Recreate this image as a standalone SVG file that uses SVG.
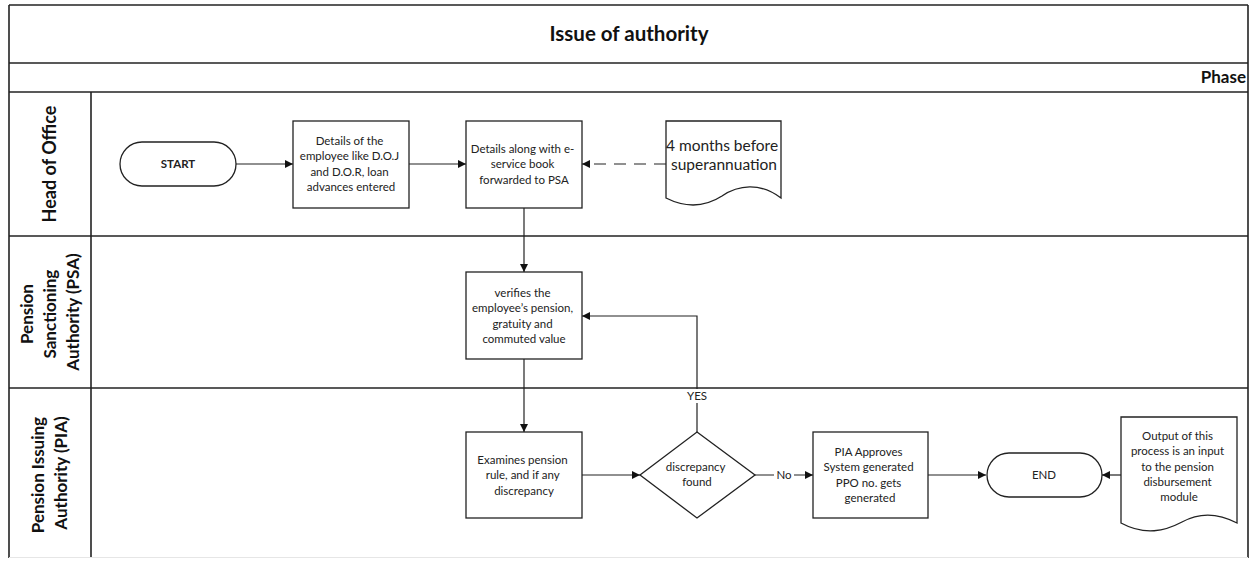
<svg xmlns="http://www.w3.org/2000/svg" width="1251" height="561" viewBox="0 0 1251 561">
  <style>
    .frame { fill: none; stroke: #222; stroke-width: 1.6; }
    .shape { fill: #fff; stroke: #222; stroke-width: 1.3; }
    .edge { fill: none; stroke: #222; stroke-width: 1.2; }
    .dash { stroke-dasharray: 12 8; }
    .t { font-family: Lato, "Liberation Sans", sans-serif; font-size: 11.5px; fill: #222; text-anchor: middle; }
    .big { font-size: 15.5px; }
    .b { font-weight: bold; }
    .lane { font-family: Lato, "Liberation Sans", sans-serif; font-weight: bold; fill: #111; text-anchor: middle; }
  </style>
  <defs>
    <marker id="arrow" viewBox="0 0 10 10" refX="10" refY="5" markerWidth="10" markerHeight="8" markerUnits="userSpaceOnUse" orient="auto">
      <path d="M0,0 L10,5 L0,10 Z" fill="#111"/>
    </marker>
  </defs>

  <rect x="0" y="0" width="1251" height="561" fill="#fff"/>

  <!-- pool frame, title band, phase band and lanes -->
  <g id="pool">
    <line class="frame" x1="9" y1="5" x2="1248" y2="5"/>
    <line class="frame" x1="9" y1="5" x2="9" y2="558"/>
    <line class="frame" x1="1248" y1="5" x2="1248" y2="558"/>
    <line class="frame" x1="9" y1="63" x2="1248" y2="63"/>
    <line class="frame" x1="9" y1="92" x2="1248" y2="92"/>
    <line class="frame" x1="9" y1="236" x2="1248" y2="236"/>
    <line class="frame" x1="9" y1="388" x2="1248" y2="388"/>
    <line class="frame" x1="91" y1="92" x2="91" y2="558"/>
    <line x1="9" y1="557.5" x2="1248" y2="557.5" stroke="#e6e6e6" stroke-width="1"/>
    <text class="lane" x="629" y="41" font-size="20.5">Issue of authority</text>
    <text class="lane" x="1246" y="83" font-size="17" style="text-anchor:end">Phase</text>
  </g>

  <g id="lane-head-of-office">
    <text class="lane" font-size="18" transform="translate(56,164) rotate(-90)">Head of Office</text>
  </g>
  <g id="lane-psa">
    <text class="lane" font-size="17" transform="translate(33,312) rotate(-90)">
      <tspan x="0" dy="0">Pension</tspan>
      <tspan x="0" dy="23">Sanctioning</tspan>
      <tspan x="0" dy="23">Authority (PSA)</tspan>
    </text>
  </g>
  <g id="lane-pia">
    <text class="lane" font-size="17" transform="translate(44,473) rotate(-90)">
      <tspan x="0" dy="0">Pension Issuing</tspan>
      <tspan x="0" dy="23">Authority (PIA)</tspan>
    </text>
  </g>

  <!-- connectors -->
  <g id="connectors">
    <line class="edge" x1="236" y1="164" x2="293" y2="164" marker-end="url(#arrow)"/>
    <line class="edge" x1="409" y1="164" x2="466" y2="164" marker-end="url(#arrow)"/>
    <line class="edge dash" x1="666" y1="164" x2="582" y2="164" marker-end="url(#arrow)"/>
    <line class="edge" x1="524" y1="208" x2="524" y2="272" marker-end="url(#arrow)"/>
    <line class="edge" x1="524" y1="359" x2="524" y2="432" marker-end="url(#arrow)"/>
    <line class="edge" x1="582" y1="475" x2="640" y2="475" marker-end="url(#arrow)"/>
    <polyline class="edge" points="697,432 697,316 582,316" marker-end="url(#arrow)"/>
    <rect x="684" y="389" width="27" height="14" fill="#fff"/>
    <text class="t" x="697" y="400">YES</text>
    <line class="edge" x1="755" y1="475" x2="813" y2="475" marker-end="url(#arrow)"/>
    <rect x="774" y="468" width="20" height="14" fill="#fff"/>
    <text class="t" x="784" y="479">No</text>
    <line class="edge" x1="928" y1="475" x2="986" y2="475" marker-end="url(#arrow)"/>
    <line class="edge" x1="1121" y1="475" x2="1102" y2="475" marker-end="url(#arrow)"/>
  </g>

  <g id="start">
    <rect class="shape" x="120" y="142" width="116" height="44" rx="22" ry="22"/>
    <text class="t b" x="178" y="168">START</text>
  </g>

  <g id="enter-details">
    <rect class="shape" x="293" y="121" width="116" height="87"/>
    <text class="t" x="351" y="145">
      <tspan x="351" dy="0">Details of the</tspan>
      <tspan x="351" dy="15.3">employee like D.O.J</tspan>
      <tspan x="351" dy="15.3">and D.O.R, loan</tspan>
      <tspan x="351" dy="15.3">advances entered</tspan>
    </text>
  </g>

  <g id="forward-to-psa">
    <rect class="shape" x="466" y="121" width="116" height="87"/>
    <text class="t" x="524" y="153">
      <tspan x="524" dy="0">Details along with e-</tspan>
      <tspan x="524" dy="15.3">service book</tspan>
      <tspan x="524" dy="15.3">forwarded to PSA</tspan>
    </text>
  </g>

  <g id="trigger-doc">
    <path class="shape" d="M666,121 H781 V198 C760,182 738,185 722,196 C708,205 690,210 666,198 Z"/>
    <text class="t big" x="724" y="151">
      <tspan x="724" dy="0">4 months before</tspan>
      <tspan x="724" dy="18.5">superannuation</tspan>
    </text>
  </g>

  <g id="psa-verify">
    <rect class="shape" x="466" y="272" width="116" height="87"/>
    <text class="t" x="524" y="297">
      <tspan x="524" dy="0">verifies the</tspan>
      <tspan x="524" dy="15.3">employee’s pension,</tspan>
      <tspan x="524" dy="15.3">gratuity and</tspan>
      <tspan x="524" dy="15.3">commuted value</tspan>
    </text>
  </g>

  <g id="pia-examine">
    <rect class="shape" x="466" y="432" width="116" height="86"/>
    <text class="t" x="524" y="464">
      <tspan x="524" dy="0">Examines pension</tspan>
      <tspan x="524" dy="15.3">rule, and if any</tspan>
      <tspan x="524" dy="15.3">discrepancy</tspan>
    </text>
  </g>

  <g id="discrepancy-check">
    <path class="shape" d="M697,432 L755,475 L697,518 L640,475 Z"/>
    <text class="t" x="697" y="471">
      <tspan x="697" dy="0">discrepancy</tspan>
      <tspan x="697" dy="15.3">found</tspan>
    </text>
  </g>

  <g id="pia-approve">
    <rect class="shape" x="813" y="432" width="115" height="86"/>
    <text class="t" x="870" y="456">
      <tspan x="870" dy="0">PIA Approves</tspan>
      <tspan x="870" dy="15.3">System generated</tspan>
      <tspan x="870" dy="15.3">PPO no. gets</tspan>
      <tspan x="870" dy="15.3">generated</tspan>
    </text>
  </g>

  <g id="end">
    <rect class="shape" x="987" y="453" width="115" height="44" rx="22" ry="22"/>
    <text class="t" x="1044" y="479">END</text>
  </g>

  <g id="output-doc">
    <path class="shape" d="M1121,417 H1237 V523 C1218,513 1200,512 1182,522 C1165,531 1145,536 1121,523 Z"/>
    <text class="t" x="1179" y="440">
      <tspan x="1179" dy="0">Output of this</tspan>
      <tspan x="1179" dy="15.3">process is an input</tspan>
      <tspan x="1179" dy="15.3">to the pension</tspan>
      <tspan x="1179" dy="15.3">disbursement</tspan>
      <tspan x="1179" dy="15.3">module</tspan>
    </text>
  </g>
</svg>
